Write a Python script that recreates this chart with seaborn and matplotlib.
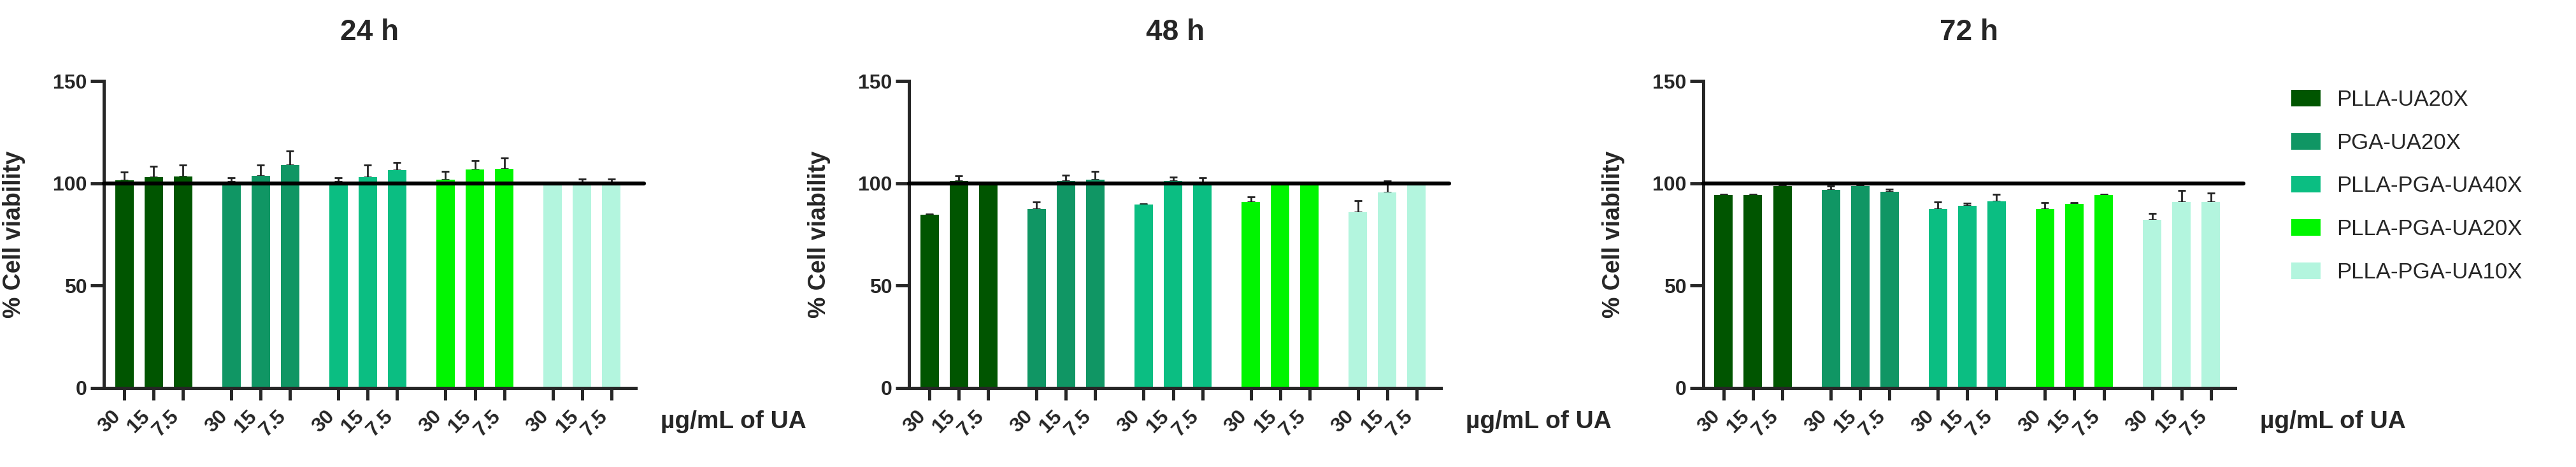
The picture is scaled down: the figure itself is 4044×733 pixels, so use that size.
import pandas as pd
import seaborn as sns
import matplotlib.pyplot as plt
from matplotlib.patches import Patch

# values (mean and upper SD, % of control)
materials = ['PLLA-UA20X', 'PGA-UA20X', 'PLLA-PGA-UA40X', 'PLLA-PGA-UA20X', 'PLLA-PGA-UA10X']
doses = ['30', '15', '7.5']
times = ['24 h', '48 h', '72 h']
colors = ['#005500', '#109664', '#0bbe82', '#00f500', '#b3f5de']

mean_24h = [101.4, 102.9, 103.2, 100.7, 103.6, 108.9, 100.7, 103.1, 106.4, 101.7, 106.9, 107.1, 99.5, 100.0, 100.0]
sd_24h = [4.0, 5.3, 5.7, 2.1, 5.4, 7.0, 2.1, 5.8, 3.9, 4.0, 4.3, 5.1, 1.0, 2.0, 2.0]
mean_48h = [84.5, 101.0, 100.0, 87.6, 101.0, 101.7, 89.5, 101.0, 100.3, 91.0, 100.0, 100.0, 86.0, 95.5, 99.8]
sd_48h = [0.5, 2.5, 0.0, 3.2, 3.0, 4.0, 0.3, 2.0, 2.5, 2.5, 0.6, 0.0, 5.4, 5.8, 0.0]
mean_72h = [94.2, 94.2, 98.6, 96.7, 98.8, 96.0, 87.3, 89.0, 91.3, 87.6, 89.9, 94.2, 82.3, 90.9, 90.9]
sd_72h = [0.5, 0.5, 0.0, 2.0, 0.5, 1.1, 3.5, 1.2, 3.2, 3.0, 0.6, 0.5, 3.1, 5.5, 4.3]

means = [mean_24h, mean_48h, mean_72h]
sds = [sd_24h, sd_48h, sd_72h]

sns.set_style('ticks')
plt.rcParams['font.family'] = ['Liberation Sans', 'DejaVu Sans']

group_step = 3.652
rows = []
for t, m, s in zip(times, means, sds):
    for gi, mat in enumerate(materials):
        for di, d in enumerate(doses):
            k = gi * 3 + di
            rows.append({'time': t, 'material': mat, 'dose': d,
                         'pos': gi * group_step + di, 'viability': m[k], 'sd': s[k]})
df = pd.DataFrame(rows)

fig = plt.figure(figsize=(40.44, 7.33), dpi=100)
lefts = [0.0403, 0.3529, 0.6612]
palette = dict(zip(materials, colors))

for left, t in zip(lefts, times):
    ax = fig.add_axes([left, 0.1692, 0.2065, 0.6575])
    sub = df[df['time'] == t]
    sns.barplot(data=sub, x='pos', y='viability', hue='material', palette=palette,
                native_scale=True, dodge=False, width=0.63, saturation=1,
                linewidth=0, errorbar=None, legend=False, ax=ax, zorder=2)
    ax.errorbar(sub['pos'], sub['viability'], yerr=[[0] * len(sub), sub['sd']],
                fmt='none', ecolor='#222222', elinewidth=2, capsize=4.5, capthick=2, zorder=1)
    ax.axhline(100, color='black', lw=4.5, zorder=3, xmax=1.015, clip_on=False)

    ax.set_ylim(0, 150)
    ax.set_xlim(-0.696, 17.44)
    ax.set_yticks([0, 50, 100, 150])
    ax.set_xticks(sub['pos'])
    ax.set_xticklabels(sub['dose'], rotation=45, ha='right', va='top',
                       fontsize=23, fontweight='bold')
    for lab in ax.get_yticklabels():
        lab.set_fontweight('bold')
    ax.tick_params(axis='y', labelsize=23, length=15, width=3.6, pad=4)
    ax.tick_params(axis='x', length=14, width=3.6, pad=7)
    sns.despine(ax=ax)
    for sp in ['left', 'bottom']:
        ax.spines[sp].set_linewidth(3.6)

    ax.set_title(t, fontsize=33, fontweight='bold', pad=46)
    ax.set_ylabel('% Cell viability', fontsize=27, fontweight='bold')
    ax.yaxis.set_label_coords(-0.147, 0.5)
    ax.set_xlabel('µg/mL of UA', fontsize=28, fontweight='bold', ha='left', va='center')
    ax.xaxis.set_label_coords(1.047, -0.11)

handles = [Patch(facecolor=c, edgecolor='none') for c in colors]
fig.legend(handles, materials, loc='upper left', bbox_to_anchor=(0.8895, 0.809),
           frameon=False, fontsize=25, handlelength=1.33, handleheight=0.78,
           handletextpad=0.72, labelspacing=1.0, borderpad=0, borderaxespad=0)

fig.savefig('out.png', dpi=100)
plt.close()
